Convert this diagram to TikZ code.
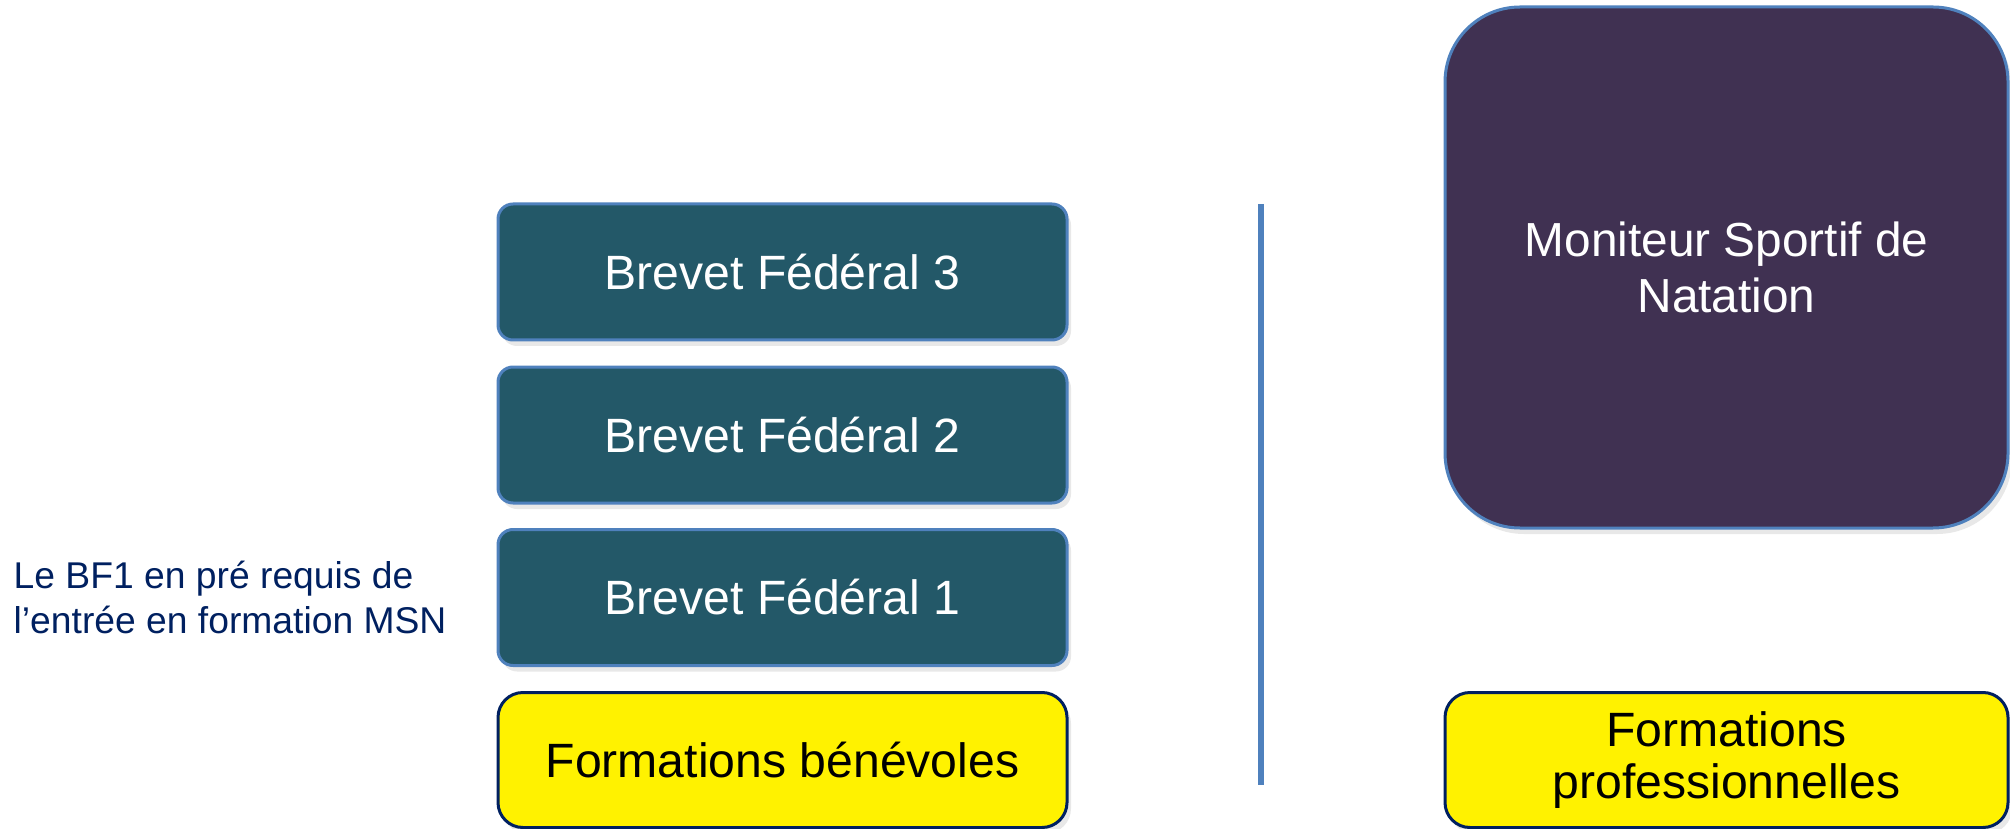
\documentclass[tikz,border=0pt]{standalone}
\usepackage{fontspec}
\setmainfont{Liberation Sans}
\usetikzlibrary{shadows}
\definecolor{bfteal}{HTML}{235868}
\definecolor{msnpurple}{HTML}{403152}
\definecolor{edgeblue}{HTML}{4F81BD}
\definecolor{navyblue}{HTML}{002060}
\tikzstyle{softshadow} = [drop shadow={shadow xshift=0.4mm, shadow yshift=-0.6mm, opacity=0.18}]
\tikzstyle{brevet} = [rectangle, rounded corners=0.15cm, draw=edgeblue, line width=0.3mm, fill=bfteal, text=white, minimum width=5.69cm, minimum height=1.36cm, font=\fontsize{13.7}{16}\selectfont, softshadow]
\tikzstyle{formation} = [rectangle, rounded corners=0.25cm, draw=navyblue, line width=0.3mm, fill=yellow, text=black, align=center, minimum height=1.35cm, font=\fontsize{13.7}{14.8}\selectfont, softshadow]
\tikzstyle{separator} = [edgeblue, line width=0.6mm]

\begin{document}
\begin{tikzpicture}
    \useasboundingbox (0,0) rectangle (20.1,-8.29);

    % filiere benevole
    \node at (7.825,-2.72) [brevet] (BF3) {Brevet Fédéral 3};
    \node at (7.825,-4.35) [brevet] (BF2) {Brevet Fédéral 2};
    \node at (7.825,-5.975) [brevet] (BF1) {Brevet Fédéral 1};
    \node at (7.825,-7.60) [formation, minimum width=5.69cm] (FB) {Formations bénévoles};

    \node at (0.13,-5.97) [anchor=west, inner sep=0pt, align=left, text=navyblue, font=\fontsize{10.6}{12.8}\selectfont] (prereq) {Le BF1 en pré requis de\\l’entrée en formation MSN};

    % separation
    \coordinate (septop) at (12.61,-2.04);
    \coordinate (sepbot) at (12.61,-7.85);
    \draw [separator] (septop) -- (sepbot);

    % filiere professionnelle
    \node at (17.265,-2.675) [rectangle, rounded corners=0.75cm, draw=edgeblue, line width=0.3mm, fill=msnpurple, text=white, align=center, minimum width=5.63cm, minimum height=5.21cm, font=\fontsize{13.6}{15.9}\selectfont, softshadow] (MSN) {Moniteur Sportif de\\Natation};
    \node at (17.265,-7.60) [formation, minimum width=5.63cm] (FP) {Formations\\professionnelles};
\end{tikzpicture}
\end{document}
